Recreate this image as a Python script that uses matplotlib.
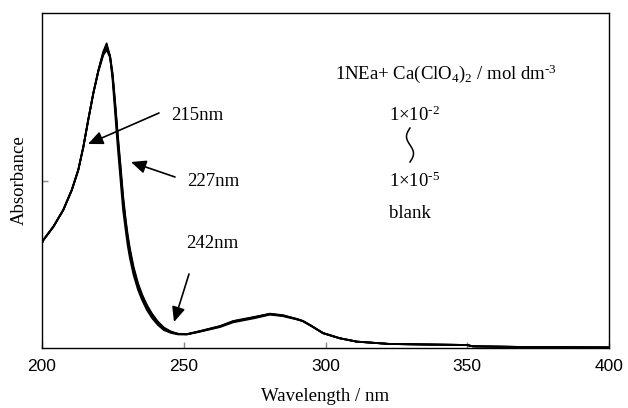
import numpy as np
import matplotlib
matplotlib.use("Agg")
import matplotlib.pyplot as plt
from matplotlib.lines import Line2D

plt.rcParams["mathtext.fontset"] = "custom"
plt.rcParams["mathtext.rm"] = "Liberation Serif"
plt.rcParams["mathtext.it"] = "Liberation Serif:italic"
plt.rcParams["mathtext.bf"] = "Liberation Serif:bold"

# Wavelength grid (nm)
wavelength = [200.0, 200.5, 204.0, 207.5, 210.5, 212.8, 214.6, 216.3, 218.1, 219.9,
              221.6, 222.8, 224.0, 224.9, 225.8, 226.7, 227.7, 228.6, 229.5, 230.2,
              231.0, 232.3, 233.9, 235.3, 237.0, 238.8, 240.9, 243.0, 245.5, 248.0,
              251.1, 255.7, 262.8, 267.4, 275.0, 280.4, 285.0, 289.8, 292.0, 295.0,
              299.1, 305.0, 311.0, 322.7, 335.0, 349.8, 352.0, 370.0, 400.0]

# Absorbance spectra (several Ca(ClO4)2 concentrations and blank)
abs_1 = [0.627, 0.645, 0.724, 0.824, 0.943, 1.063, 1.202, 1.361, 1.521, 1.660,
         1.769, 1.819, 1.739, 1.600, 1.401, 1.202, 1.003, 0.824, 0.705, 0.615,
         0.537, 0.436, 0.346, 0.287, 0.227, 0.179, 0.137, 0.107, 0.090, 0.081,
         0.081, 0.097, 0.125, 0.153, 0.178, 0.199, 0.190, 0.171, 0.160, 0.131,
         0.088, 0.058, 0.038, 0.024, 0.021, 0.018, 0.010, 0.006, 0.003]
abs_2 = [0.627, 0.645, 0.724, 0.824, 0.943, 1.063, 1.202, 1.361, 1.521, 1.658,
         1.762, 1.806, 1.742, 1.620, 1.440, 1.250, 1.050, 0.870, 0.740, 0.650,
         0.565, 0.460, 0.365, 0.305, 0.243, 0.193, 0.148, 0.115, 0.094, 0.083,
         0.082, 0.099, 0.128, 0.157, 0.182, 0.202, 0.193, 0.172, 0.161, 0.132,
         0.089, 0.058, 0.038, 0.024, 0.021, 0.018, 0.010, 0.006, 0.003]
abs_3 = [0.627, 0.645, 0.724, 0.824, 0.943, 1.063, 1.202, 1.361, 1.521, 1.655,
         1.755, 1.793, 1.745, 1.640, 1.470, 1.280, 1.090, 0.910, 0.770, 0.680,
         0.595, 0.485, 0.385, 0.320, 0.257, 0.205, 0.157, 0.122, 0.098, 0.085,
         0.083, 0.101, 0.131, 0.161, 0.186, 0.205, 0.196, 0.174, 0.162, 0.133,
         0.090, 0.059, 0.038, 0.024, 0.021, 0.018, 0.010, 0.006, 0.003]
abs_blank = [0.627, 0.645, 0.724, 0.824, 0.943, 1.063, 1.202, 1.361, 1.521, 1.652,
             1.748, 1.780, 1.735, 1.630, 1.455, 1.265, 1.070, 0.890, 0.755, 0.665,
             0.580, 0.472, 0.375, 0.312, 0.250, 0.199, 0.152, 0.118, 0.096, 0.084,
             0.082, 0.100, 0.130, 0.159, 0.184, 0.203, 0.194, 0.173, 0.161, 0.132,
             0.089, 0.058, 0.038, 0.024, 0.021, 0.018, 0.010, 0.006, 0.003]
series = [abs_1, abs_2, abs_3, abs_blank]

x_ticks = [200, 250, 300, 350, 400]

serif = ["Liberation Serif", "DejaVu Serif"]
sans = ["Liberation Sans", "DejaVu Sans"]

fig = plt.figure(figsize=(6.28, 4.08), dpi=100)
ax = fig.add_axes([42/628, 1-348/408, 567/628, 335/408])

for s in series:
    ax.plot(wavelength, s, color="black", lw=1.3, solid_joinstyle="round",
            solid_capstyle="round")

ax.set_xlim(200, 400)
ax.set_ylim(0, 2)
ax.set_xticks(x_ticks)
ax.set_xticklabels([str(t) for t in x_ticks], family=sans, fontsize=12.5)
ax.set_yticks([1])
ax.set_yticklabels([])
ax.tick_params(axis="both", direction="in", length=4, color="#888888", width=1)
ax.tick_params(axis="x", pad=8)
for sp in ax.spines.values():
    sp.set_linewidth(1.0)
    sp.set_color("black")

ax.set_xlabel("Wavelength / nm", family=serif, fontsize=13.5, labelpad=10)
ax.set_ylabel("Absorbance", family=serif, fontsize=13.5, labelpad=7)


def fp(x, y):
    return (x/628, 1 - y/408)


arrowprops = dict(arrowstyle="-|>,head_length=0.9,head_width=0.4", color="black",
                  lw=1.2, shrinkA=0, shrinkB=0)
ax.annotate("", xy=fp(88, 144), xycoords="figure fraction",
            xytext=fp(159, 113), textcoords="figure fraction", arrowprops=arrowprops)
ax.annotate("", xy=fp(131, 162), xycoords="figure fraction",
            xytext=fp(175, 177), textcoords="figure fraction", arrowprops=arrowprops)
ax.annotate("", xy=fp(174, 322), xycoords="figure fraction",
            xytext=fp(189, 274), textcoords="figure fraction", arrowprops=arrowprops)

fig.text(*fp(171, 116), "215nm", family=serif, fontsize=13.5, va="center", ha="left")
fig.text(*fp(187, 181), "227nm", family=serif, fontsize=13.5, va="center", ha="left")
fig.text(*fp(186, 243), "242nm", family=serif, fontsize=13.5, va="center", ha="left")

fig.text(*fp(335, 74), r"1NEa+ Ca(ClO$_{4}$)$_{2}$ / mol dm$^{\text{-}3}$", family=serif,
         fontsize=13.5, va="center", ha="left")
fig.text(*fp(389, 115), r"1$\times$10$^{\text{-}2}$", family=serif, fontsize=13.5,
         va="center", ha="left")
fig.text(*fp(389, 181), r"1$\times$10$^{\text{-}5}$", family=serif, fontsize=13.5,
         va="center", ha="left")
fig.text(*fp(389, 213), "blank", family=serif, fontsize=13.5, va="center", ha="left")

# squiggle connector between the concentration labels
t = np.linspace(0, 1, 60)
sx = 410 - 3.5*np.sin(2*np.pi*t)
sy = 128 + 34*t
fig.add_artist(Line2D(sx/628, 1 - sy/408, color="black", lw=1.1,
                      transform=fig.transFigure))

fig.savefig("out.png", dpi=100)
